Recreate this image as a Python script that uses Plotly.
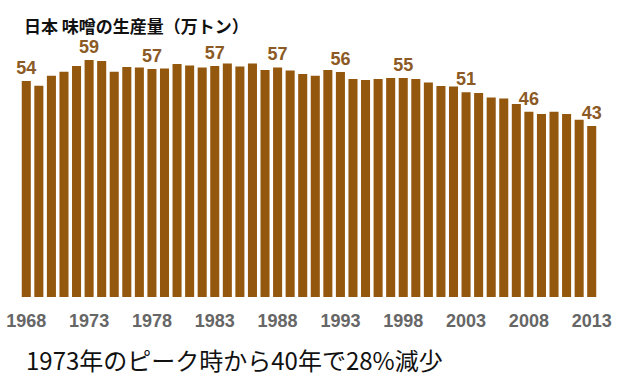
import plotly.graph_objects as go

years = list(range(1968, 2014))
production = [54.0, 52.8, 55.3, 56.3, 57.75, 59.25, 59.0, 56.3, 57.5, 57.4,
              57.0, 57.1, 58.25, 57.9, 57.4, 57.75, 58.4, 57.6, 58.4, 56.75,
              57.4, 56.6, 55.75, 55.3, 56.75, 56.25, 54.5, 54.25, 54.5, 54.75,
              54.75, 54.5, 53.6, 52.75, 52.6, 51.2, 51.0, 49.9, 49.6, 48.25,
              46.3, 45.75, 46.3, 45.75, 44.3, 42.75]
label_years = [1968, 1973, 1978, 1983, 1988, 1993, 1998, 2003, 2008, 2013]
label_texts = ["54", "59", "57", "57", "57", "56", "55", "51", "46", "43"]

label_map = dict(zip(label_years, label_texts))
texts = [label_map.get(y, "") for y in years]

L, R, T, B = 20, 32, 37, 86
W, H = 630, 383

fig = go.Figure(go.Bar(
    x=years, y=production, text=texts, textposition="outside",
    constraintext="none", cliponaxis=False,
    textfont=dict(family="Liberation Sans", size=18, color="#8C5A24", weight="bold"),
    marker=dict(color="#94570E", line=dict(width=0)),
    hoverinfo="x+y",
))

fig.update_layout(
    width=W, height=H,
    margin=dict(l=L, r=R, t=T, b=B, autoexpand=False),
    plot_bgcolor="white", paper_bgcolor="white",
    bargap=0.28, showlegend=False,
    xaxis=dict(range=[1967.5, 2013.5], tickvals=label_years,
               ticktext=[str(y) for y in label_years],
               tickfont=dict(family="Liberation Sans", size=18, color="#666666", weight="bold"),
               showgrid=False, zeroline=False, showline=False, ticks="",
               ticklabelstandoff=11, automargin=False),
    yaxis=dict(range=[0, 65], visible=False),
)

pw = W - L - R
ph = H - T - B

def px(x):
    return (x - L) / pw

def py(y):
    return (H - B - y) / ph

fig.add_annotation(text="日本 味噌の生産量（万トン）", x=px(22), y=py(26),
                   xref="paper", yref="paper", showarrow=False,
                   xanchor="left", yanchor="middle",
                   font=dict(family="Noto Sans CJK JP", size=17, color="#111111", weight="bold"))
fig.add_annotation(text="1973年のピーク時から40年で28%減少", x=px(24), y=py(359),
                   xref="paper", yref="paper", showarrow=False,
                   xanchor="left", yanchor="middle",
                   font=dict(family="Noto Sans CJK JP", size=24, color="#111111"))

fig.write_html("out.html", config={"displayModeBar": False},
               post_script="document.body.style.margin='0';document.body.style.overflow='hidden';")
